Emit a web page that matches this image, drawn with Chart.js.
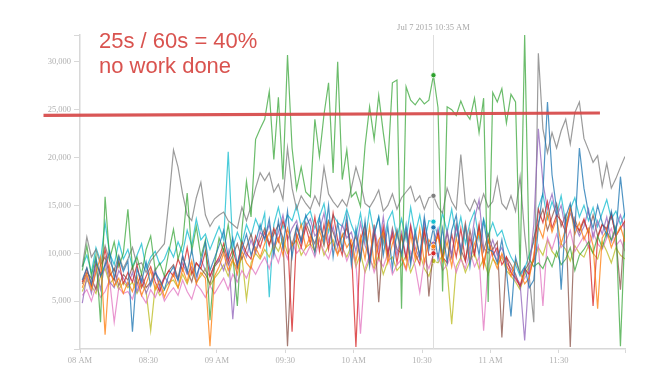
<!DOCTYPE html>
<html><head><meta charset="utf-8">
<script src="https://cdn.jsdelivr.net/npm/chart.js@4.4.1/dist/chart.umd.min.js"></script>
<style>
html,body{margin:0;padding:0;background:#fff;}
#wrap{position:relative;width:672px;height:377px;overflow:hidden;}
#note{position:absolute;left:99px;top:28px;font-family:"Liberation Sans",Arial,sans-serif;font-size:22px;line-height:25px;color:#d9534f;white-space:nowrap;}
</style></head><body>
<div id="wrap"><canvas id="c" width="672" height="377"></canvas>
<div id="note">25s / 60s = 40%<br>no work done</div></div>
<script>
// minutes after 08:00
const minutes = [1,3,5,7,9,11,13,15,17,19,21,23,25,27,29,31,33,35,37,39,41,43,45,47,49,51,53,55,57,59,61,63,65,67,69,71,73,75,77,79,81,83,85,87,89,91,93,95,97,99,101,103,105,107,109,111,113,115,117,119,121,123,125,127,129,131,133,135,137,139,141,143,145,147,149,151,153,155,157,159,161,163,165,167,169,171,173,175,177,179,181,183,185,187,189,191,193,195,197,199,201,203,205,207,209,211,213,215,217,219,221,223,225,227,229,231,233,235,237,239];

const xTickMinutes = [0,30,60,90,120,150,180,210];
const xTickLabels = ["08 AM","08:30","09 AM","09:30","10 AM","10:30","11 AM","11:30"];
const xMax = 239;
const yTickValues = [5000,10000,15000,20000,25000,30000];
const yMax = 32800;
const crosshairMinute = 155;
const crosshairLabel = "Jul 7 2015 10:35 AM";
const thresholdMinutes = [-16, 228];
const thresholdValues = [24400, 24650];

const blue = [
7200,8500,6800,9400,7600,8800,10200,7400,9600,8100,
9200,1800,8400,7000,9100,6600,8000,7200,6200,7800,
8600,7100,9800,8000,10400,7600,9000,11200,8200,9500,
10800,12400,9600,11600,8800,10400,12000,9800,11200,13000,
11400,13600,9800,13400,10600,14400,9600,12800,11200,14000,
12800,10000,13800,11000,15000,9600,13200,10400,14000,8800,
12600,9400,13400,8600,12000,13800,9800,12800,8400,12400,
9800,13000,8800,12400,9600,13800,10400,12700,9400,12600,
9000,12400,14000,9800,12800,8600,12400,9800,13400,10400,
10200,9000,11400,8200,3400,9600,7800,8600,6400,7200,
12800,16400,25800,18200,14600,6200,13800,15200,12400,21000,
16800,14200,12600,15000,13200,11800,14400,12000,18000,13600];
const orange = [
6400,7800,6200,8000,9600,1500,8600,6600,7400,5800,
7000,6000,7600,5600,6800,8200,6200,7200,5400,6600,
7800,6400,8400,7000,9200,6800,8000,7400,300,7600,
8600,10000,8200,9400,7800,10200,9000,8400,10600,9600,
11000,12200,10400,11600,9800,12600,10800,11400,13000,10600,
11800,10200,12400,10800,13200,11000,9800,12000,10600,11400,
9200,11800,9400,12800,8800,11400,12200,9000,11000,12400,
9600,8400,12000,9400,12600,9000,11400,10700,11800,9200,
11200,8600,11600,9600,13000,9200,11000,12200,8800,11400,
9600,8400,10000,8800,7600,9200,8000,6800,7400,9800,
12800,11600,14200,12200,13600,11000,12600,14800,12000,13200,
11400,12600,10800,4200,11600,12400,10600,11800,12800,11200];
const green = [
8200,10800,7600,9800,2800,15900,9400,11200,8600,10000,
14600,8400,9600,7800,10400,11800,8200,9000,7600,10200,
12500,9400,11000,16300,10200,12800,9600,11400,3000,8800,
11600,10200,13000,9800,4500,12400,17500,13800,21900,23000,
24000,26900,19800,26300,17700,30700,21000,16700,19000,16400,
15900,24000,20100,24500,27800,18400,30000,17700,20800,15900,
16400,14900,21200,25300,21900,26500,22600,19200,27800,28100,
4200,27400,26000,25500,26200,25600,26000,28600,25200,6000,
25300,25000,24400,25900,24700,24000,26200,22600,26200,4900,
26800,25800,27200,23600,26600,25800,8000,32800,9400,8600,
9000,8400,9600,8600,10200,8800,9400,10600,8200,9800,
10400,11200,10000,11800,10600,12200,11400,12800,300,12600];
const red = [
7000,8400,6600,9000,7800,10400,8000,7200,9200,6800,
8000,7000,8800,6400,7600,8600,7000,6000,7400,8200,
7600,9400,8200,10600,7800,9000,8400,10200,7600,8800,
9600,11000,9200,10400,8600,11200,10000,9400,11800,10600,
12200,10800,12600,11200,13400,11800,1800,12000,10600,12800,
11000,13800,10200,13000,10400,14200,11400,9800,13200,10600,
200,11400,13000,9200,12200,9600,12800,10000,12000,9000,
11800,9400,12800,10000,8800,12400,9800,10000,12200,9600,
9000,12000,9600,12600,9200,11600,9800,13000,8600,11400,
9800,10600,8800,9600,8000,7400,6600,8400,7800,9400,
14600,13200,15400,12600,14000,13400,12200,14800,13000,12400,
13600,12000,4500,11600,13000,12400,14000,11800,12600,13400];
const purple = [
4800,7600,5800,8400,6200,9000,7000,6400,8200,7400,
6600,8000,6000,7400,5800,7000,8400,6200,7600,6800,
8000,7200,9000,7800,8600,7000,9400,8200,7600,8800,
9400,8200,10200,3100,9000,10800,9600,11400,10000,12200,
11600,13000,10800,12200,14000,11400,12600,13400,11000,12800,
13600,11800,12400,14200,11200,12800,10600,13000,11600,12200,
10200,13200,10800,9600,12600,10400,13800,10000,12400,9800,
12200,9600,13000,10600,9400,13400,10800,11000,12600,10000,
12400,9800,12800,10400,13200,10200,13600,15600,10600,10000,
11400,9800,10600,9000,8400,7600,6800,900,8200,13000,
23000,17400,14600,16200,13800,15000,12400,14200,13000,11800,
12800,14600,11600,13400,12000,13800,11200,12600,14000,12400];
const brown = [
6800,8000,7400,6200,8800,9600,7600,8400,6600,7800,
7200,8600,6800,7800,6400,7000,8000,6600,7400,8200,
8800,7400,9600,8200,7000,9000,8400,7800,6800,8600,
9200,10400,8800,9800,11000,9400,10600,12000,10200,11400,
12600,11000,12000,13000,11600,300,10800,12800,11400,13200,
12000,11000,12800,11600,13400,12200,10800,11800,12600,10600,
11800,9400,12400,9000,13000,4900,12200,9600,12600,10400,
10000,12400,9200,11800,9800,12600,5500,10500,12000,9400,
12200,9600,13000,10400,9200,12400,10000,12800,10200,12000,
10400,11200,1200,9600,8800,7800,6400,8200,9000,11600,
13200,14600,12400,13800,15200,12800,14000,200,13600,12200,
13400,12200,14000,11800,13000,12600,14200,11600,6200,13600];
const pink = [
5600,6200,5000,6600,5400,6000,7200,2800,6400,5800,
6000,5200,6800,5600,4800,6200,5400,6600,5000,5800,
6400,5600,7200,6000,5200,6800,6200,5400,6600,5800,
6600,7400,6200,7800,7000,8200,7400,8600,7800,8800,
9600,8400,10200,9000,10800,9400,11200,10000,10600,9800,
10800,9600,11400,10200,9400,11000,10000,10800,9200,10400,
9000,1600,8400,9800,8000,9400,8600,10000,7800,8800,
9400,8200,10200,8600,5900,9400,8400,9900,10000,8200,
8800,9800,8000,9400,8400,10200,8600,9600,1900,8800,
10400,9200,9800,8600,8000,7200,6600,7400,8200,9600,
10800,4500,11600,10400,12000,10600,11200,12400,10200,11000,
11800,10600,12200,11000,10400,11600,12600,10800,11400,10200];
const gray = [
8600,11700,9600,10400,8800,10800,9200,8200,9800,8400,
9400,10600,8800,9000,8000,9200,9800,10400,11000,15500,
20800,19000,16200,14000,13400,15800,17400,14000,12800,13600,
14000,14300,13400,13000,12600,14800,13400,14900,16800,18400,
17600,18400,16400,17200,15600,21000,16800,14600,16000,15200,
14600,16000,15000,19000,16200,15400,14800,15600,14900,16800,
19000,17400,15200,14800,15600,16600,14400,15000,16200,14600,
15800,16400,17000,15400,16000,14600,15800,16000,14800,14200,
16800,15400,14600,20300,15200,14400,15600,14600,16200,14800,
15400,17900,15200,14600,16000,14400,18000,12000,7600,2800,
30900,23000,20500,22600,21000,22800,24000,21400,24700,25800,
22000,20800,19500,20200,17000,19400,16800,17800,19000,20100];
const olive = [
6000,7200,6600,5800,7600,8400,6800,7400,6200,7000,
6400,7000,5800,6800,6000,1900,6600,5600,6200,7000,
7200,6400,7800,6800,8200,7000,7600,8400,6600,7400,
8000,8800,7600,9200,8400,9600,5200,9000,10000,9400,
10400,9600,11000,10200,11600,10000,10800,11400,9800,10600,
11000,10200,11600,9800,10800,11400,10000,10600,9600,10800,
8600,10000,8000,9400,8400,9800,7800,9200,9600,8200,
8800,9800,8000,9200,10000,8400,7600,9200,9000,9800,
8200,2600,8600,9600,8000,9200,10000,8400,9400,7800,
9400,8800,9600,8200,7600,7000,6200,7800,8600,9200,
10600,9800,11400,10200,9600,11000,10400,9200,10800,10000,
9600,10800,10000,9400,11200,10200,9000,10600,9800,9400];
const cyan = [
8600,9800,8000,10600,9200,13200,10000,8800,11200,9400,
10400,8600,9800,11000,8400,9600,10200,8800,9400,10600,
9600,11200,10000,12400,10800,13600,11400,12000,10400,11600,
12800,11400,20600,10600,12200,11000,13000,11800,13600,12400,
14200,5400,13000,14800,12600,14000,13400,15000,12800,13800,
14400,12600,13800,15200,12200,14000,13200,12800,14600,13000,
11800,14200,11200,14600,12000,13800,11000,13400,14400,11600,
13600,11400,14800,12000,14000,11200,13400,13300,11800,14200,
12200,14600,11600,13800,11000,13200,14400,11400,13600,11800,
13200,11800,12400,10800,9600,8800,7600,8400,9800,11200,
14800,16200,13600,15400,14000,16000,13200,14600,15800,13800,
15000,13400,14800,12800,14200,15600,13600,14400,13000,14200];

const seriesNames = ["blue","orange","green","red","purple","brown","pink","gray","olive","cyan"];
const seriesValues = [blue,orange,green,red,purple,brown,pink,gray,olive,cyan];
const seriesColors = ["#1f77b4","#ff7f0e","#2ca02c","#d62728","#9467bd","#8c564b","#e377c2","#7f7f7f","#bcbd22","#17becf"];

function rgba(hex,a){const n=parseInt(hex.slice(1),16);return `rgba(${n>>16&255},${n>>8&255},${n&255},${a})`;}

const datasets = [{
  label:"threshold",
  data: thresholdMinutes.map((m,i)=>({x:m,y:thresholdValues[i]})),
  borderColor:"rgba(214,72,72,0.92)", borderWidth:3.2, pointRadius:0, clip:false, tension:0
}];
seriesValues.forEach((vals,k)=>{
  datasets.push({
    label: seriesNames[k],
    data: minutes.map((m,i)=>({x:m,y:vals[i]})),
    borderColor: rgba(seriesColors[k], seriesNames[k]==="green" ? 0.7 : 0.78),
    borderWidth: 1.2,
    tension: 0,
    pointRadius: c => (minutes[c.dataIndex]===crosshairMinute ? 2.6 : 0),
    pointBackgroundColor: seriesColors[k],
    pointBorderColor: "#ffffff",
    pointBorderWidth: 0.8
  });
});

const serif = '"Liberation Serif","Times New Roman",serif';
const crosshair = {
  id:"crosshair",
  beforeDatasetsDraw(chart){
    const {ctx, chartArea, scales} = chart;
    const px = Math.round(scales.x.getPixelForValue(crosshairMinute))+0.5;
    ctx.save(); ctx.strokeStyle="#dedede"; ctx.lineWidth=1;
    ctx.beginPath(); ctx.moveTo(px, chartArea.top); ctx.lineTo(px, chartArea.bottom); ctx.stroke();
    ctx.restore();
  },
  afterDraw(chart){
    const {ctx, chartArea, scales} = chart;
    const px = scales.x.getPixelForValue(crosshairMinute);
    ctx.save(); ctx.font = '8.5px ' + serif; ctx.fillStyle="#a8a8a8";
    ctx.textAlign="center"; ctx.textBaseline="alphabetic";
    ctx.fillText(crosshairLabel, px, chartArea.top - 5.5);
    ctx.restore();
  }
};

new Chart(document.getElementById("c"), {
  type:"line",
  data:{datasets},
  options:{
    responsive:false, animation:false, devicePixelRatio:1, events:[],
    layout:{padding:{left:0,right:47,top:35,bottom:0}},
    plugins:{legend:{display:false}, tooltip:{enabled:false}},
    scales:{
      x:{type:"linear", min:0, max:xMax,
        afterBuildTicks:s=>{ s.ticks=[...xTickMinutes, xMax].map(v=>({value:v})); },
        afterFit:s=>{ s.height=28; },
        ticks:{autoSkip:false, maxRotation:0, padding:3, color:"#b0b0b0", font:{family:serif,size:8.5},
          callback:v=>{ const i=xTickMinutes.indexOf(v); return i>=0?xTickLabels[i]:""; }},
        grid:{drawOnChartArea:false, drawTicks:true, tickLength:4, color:"#d8d8d8"},
        border:{display:true, color:"#d8d8d8", width:1.5}
      },
      y:{type:"linear", min:0, max:yMax,
        afterBuildTicks:s=>{ s.ticks=[0,...yTickValues,yMax].map(v=>({value:v})); },
        afterFit:s=>{ s.width=80; },
        ticks:{autoSkip:false, padding:3, color:"#b0b0b0", font:{family:serif,size:8.5},
          callback:v=> yTickValues.includes(v) ? v.toLocaleString("en-US") : ""},
        grid:{drawOnChartArea:false, drawTicks:true, tickLength:6, color:"#d8d8d8"},
        border:{display:true, color:"#d8d8d8", width:1.5}
      }
    }
  },
  plugins:[crosshair]
});
</script>
</body></html>
